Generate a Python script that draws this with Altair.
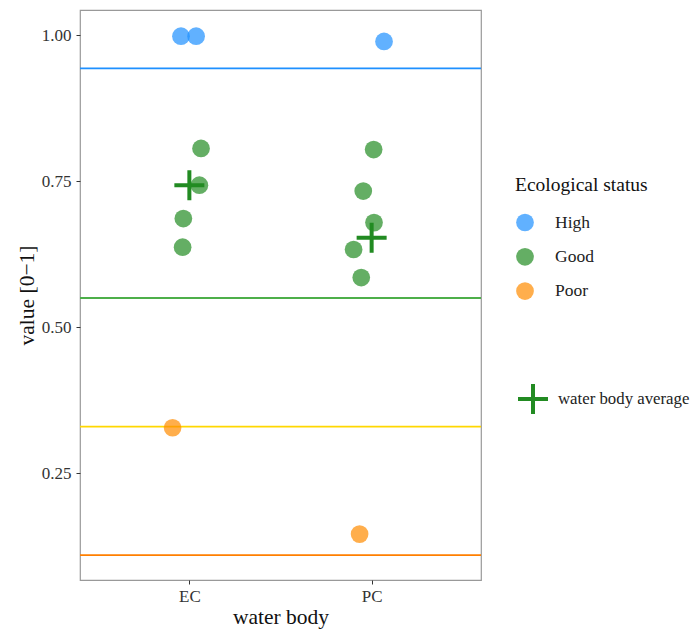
import altair as alt
import pandas as pd

# ---- data ----
water_bodies = ["EC", "PC"]
statuses = ["High", "Good", "Poor"]
status_colors = ["#1E90FF", "#228B22", "#FF8C00"]

pt_body = ["EC", "EC", "EC", "EC", "EC", "EC", "EC",
           "PC", "PC", "PC", "PC", "PC", "PC", "PC"]
pt_status = ["High", "High", "Good", "Good", "Good", "Good", "Poor",
             "High", "Good", "Good", "Good", "Good", "Good", "Poor"]
pt_value = [0.998, 0.998, 0.806, 0.743, 0.686, 0.637, 0.328,
            0.989, 0.804, 0.733, 0.679, 0.633, 0.585, 0.146]
pt_jitter = [-0.046, 0.037, 0.064, 0.055, -0.033, -0.037, -0.092,
             0.068, 0.011, -0.046, 0.013, -0.099, -0.057, -0.066]

avg_body = ["EC", "PC"]
avg_value = [0.743, 0.653]
avg_label = "water body average"

thresholds = [0.943, 0.55, 0.33, 0.11]
threshold_colors = ["#1E90FF", "#4DAF4A", "#FFD700", "#FF7F00"]

y_ticks = [0.25, 0.50, 0.75, 1.00]

# ---- tables ----
points = pd.DataFrame({
    "body": pt_body,
    "status": pt_status,
    "value": pt_value,
    "xpos": [water_bodies.index(b) + 1 + j for b, j in zip(pt_body, pt_jitter)],
})
avgs = pd.DataFrame({
    "body": avg_body,
    "value": avg_value,
    "xpos": [water_bodies.index(b) + 1 for b in avg_body],
    "label": [avg_label] * len(avg_body),
})
lines = pd.DataFrame({"value": thresholds, "col": threshold_colors})

FONT = "Liberation Serif"
CROSS = "M-1,0H1M0,-1V1"

label_expr = "[" + ",".join("'%s'" % b for b in water_bodies) + "][datum.value - 1]"

x_scale = alt.Scale(domain=[0.4, 2.6], nice=False, zero=False)
y_scale = alt.Scale(domain=[0.0675, 1.0428], nice=False, zero=False)

x_axis = alt.Axis(values=[1, 2], labelExpr=label_expr, title="water body",
                  grid=False, domain=False, tickSize=4, tickColor="#333333",
                  labelPadding=4, titlePadding=2, labelFontSize=17,
                  titleFontSize=21.5)
y_axis = alt.Axis(values=y_ticks, format=".2f", title="value [0\u22121]",
                  grid=False, domain=False, tickSize=4, tickColor="#333333",
                  labelPadding=5, titlePadding=3, labelFontSize=17,
                  titleFontSize=21.5)

rules = alt.Chart(lines).mark_rule(strokeWidth=1.8).encode(
    y=alt.Y("value:Q", scale=y_scale, axis=y_axis),
    stroke=alt.Stroke("col:N", scale=None, legend=None),
)

dots = alt.Chart(points).mark_circle(size=314, opacity=0.7).encode(
    x=alt.X("xpos:Q", scale=x_scale, axis=x_axis),
    y=alt.Y("value:Q", scale=y_scale, axis=y_axis),
    color=alt.Color("status:N",
                    scale=alt.Scale(domain=statuses, range=status_colors),
                    legend=alt.Legend(title="Ecological status", orient="none",
                                      legendX=435, legendY=166,
                                      symbolType="circle", symbolSize=314,
                                      symbolOpacity=0.7, rowPadding=15.3,
                                      titlePadding=17, labelOffset=20,
                                      titleFontSize=19.5, labelFontSize=17.5,
                                      titleFontWeight="normal", padding=0)),
)

cross = alt.Chart(avgs).mark_point(filled=False, size=900, strokeWidth=4,
                                   color="#228B22", opacity=1).encode(
    x=alt.X("xpos:Q", scale=x_scale, axis=x_axis),
    y=alt.Y("value:Q", scale=y_scale, axis=y_axis),
    shape=alt.Shape("label:N",
                    scale=alt.Scale(domain=[avg_label], range=[CROSS]),
                    legend=alt.Legend(title=None, orient="none",
                                      legendX=436, legendY=372,
                                      symbolSize=900, symbolStrokeWidth=4,
                                      symbolStrokeColor="#228B22",
                                      symbolFillColor="transparent",
                                      labelOffset=8, labelFontSize=16.8,
                                      labelLimit=200, padding=0)),
)

chart = alt.layer(rules, dots, cross).properties(
    width=401, height=570,
    padding={"left": 72, "top": 2, "right": 210, "bottom": 50},
    autosize=alt.AutoSizeParams(type="none"),
    background="white",
).configure_view(
    stroke="#999999", strokeWidth=1.2, fill="white"
).configure_axis(
    labelFont=FONT, titleFont=FONT, labelColor="#333333", titleColor="#111111",
    titleFontWeight="normal",
).configure_legend(
    labelFont=FONT, titleFont=FONT, labelColor="#222222", titleColor="#111111",
    titleFontWeight="normal",
)

chart.save("out.html", embed_options={"renderer": "svg", "actions": False})
